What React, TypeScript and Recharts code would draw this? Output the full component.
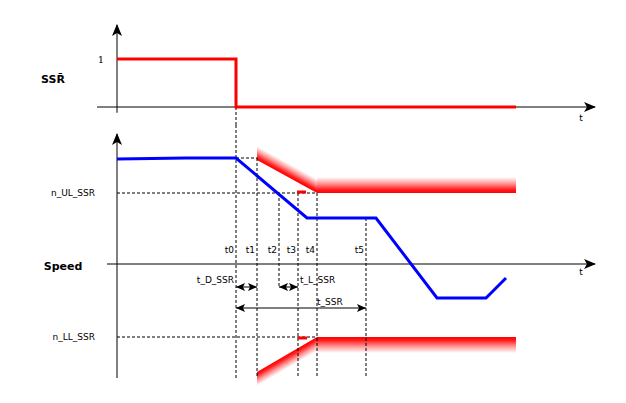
import {
  Area,
  ComposedChart,
  Line,
  ReferenceDot,
  ReferenceLine,
  XAxis,
  YAxis,
} from 'recharts'

const FONT = '"DejaVu Sans", Verdana, sans-serif'
const RED = '#ff0000'
const BLUE = '#0000ff'

// time in ms, speed in rpm
const T_DOMAIN: [number, number] = [-4, 96]
const SSR_DOMAIN: [number, number] = [-0.375, 1.75]
const SPEED_DOMAIN: [number, number] = [-1300, 1390]

const TIMES = [
  { name: 't0', t: 23.8, from: 1390, to: -1140 },
  { name: 't1', t: 28, from: 1060, to: -1140 },
  { name: 't2', t: 32.4, from: 710, to: -230 },
  { name: 't3', t: 36.2, from: 710, to: -1140 },
  { name: 't4', t: 40, from: 710, to: -1140 },
  { name: 't5', t: 49.8, from: 460, to: -1140 },
]

const SSR_SIGNAL = [
  { t: 0, v: 1 },
  { t: 23.8, v: 1 },
  { t: 23.8, v: 0 },
  { t: 79.8, v: 0 },
]

const SPEED = [
  { t: 0, v: 1050 },
  { t: 13.8, v: 1060 },
  { t: 23.8, v: 1060 },
  { t: 38, v: 460 },
  { t: 51.8, v: 460 },
  { t: 64, v: -340 },
  { t: 73.8, v: -340 },
  { t: 77.8, v: -140 },
]

const LIMITS = [
  { name: 'n_UL_SSR', v: 710 },
  { name: 'n_LL_SSR', v: -730 },
]

const H_GUIDES = [
  { v: 1060, from: 23.8, to: 28 },
  { v: 710, from: 0, to: 40 },
  { v: -730, from: 0, to: 40 },
]

const UPPER_RAMP = [
  { t: 28, r: [1040, 1180] },
  { t: 40, r: [710, 850] },
]
const UPPER_FLAT = [
  { t: 40, r: [710, 870] },
  { t: 79.8, r: [710, 870] },
]
const LOWER_RAMP = [
  { t: 28, r: [-1220, -1080] },
  { t: 40, r: [-870, -730] },
]
const LOWER_FLAT = [
  { t: 40, r: [-890, -730] },
  { t: 79.8, r: [-890, -730] },
]
const UPPER_NOTCH = [
  { t: 36, v: 720 },
  { t: 37.8, v: 720 },
]
const LOWER_NOTCH = [
  { t: 36.2, v: -740 },
  { t: 38, v: -740 },
]

const SPANS = [
  { name: 't_D_SSR', from: 23.8, to: 28, v: -230 },
  { name: 't_L_SSR', from: 32.4, to: 36.2, v: -230 },
  { name: 't_SSR', from: 23.8, to: 49.8, v: -440 },
]

const MARGIN_TOP = { top: 23, right: 29, bottom: 0, left: 7 }
const MARGIN_BOTTOM = { top: 0, right: 29, bottom: 9, left: 7 }

const axisShape = (p: any) => (
  <line x1={p.x1} y1={p.y1} x2={p.x2} y2={p.y2} stroke="#000" strokeWidth={1} markerEnd="url(#axisHead)" />
)
const spanShape = (p: any) => (
  <line
    x1={p.x1}
    y1={p.y1}
    x2={p.x2}
    y2={p.y2}
    stroke="#000"
    strokeWidth={1}
    markerStart="url(#spanHead)"
    markerEnd="url(#spanHead)"
  />
)

const text = (value: string, position: any, offset = 2, extra: any = {}) => ({
  value,
  position,
  offset,
  fill: '#000',
  fontSize: 9,
  fontFamily: FONT,
  ...extra,
})

function Fade({ id, x1, y1, x2, y2 }: { id: string; x1: number; y1: number; x2: number; y2: number }) {
  return (
    <linearGradient id={id} x1={x1} y1={y1} x2={x2} y2={y2}>
      <stop offset="0" stopColor={RED} stopOpacity={1} />
      <stop offset="0.2" stopColor={RED} stopOpacity={0.9} />
      <stop offset="0.6" stopColor={RED} stopOpacity={0.4} />
      <stop offset="1" stopColor={RED} stopOpacity={0} />
    </linearGradient>
  )
}

function Defs() {
  return (
    <svg width={0} height={0} style={{ position: 'absolute' }}>
      <defs>
        <marker id="axisHead" markerWidth={12} markerHeight={10} refX={11} refY={5} orient="auto" markerUnits="userSpaceOnUse">
          <path d="M0,0 L12,5 L0,10 L3,5 Z" fill="#000" />
        </marker>
        <marker id="spanHead" markerWidth={9} markerHeight={8} refX={9} refY={4} orient="auto-start-reverse" markerUnits="userSpaceOnUse">
          <path d="M0,0 L9,4 L0,8 L2,4 Z" fill="#000" />
        </marker>
        <Fade id="upFlat" x1={0} y1={1} x2={0} y2={0} />
        <Fade id="lowFlat" x1={0} y1={0} x2={0} y2={1} />
        <Fade id="upRamp" x1={0} y1={0.298} x2={0.14} y2={0.098} />
        <Fade id="lowRamp" x1={0} y1={0.714} x2={0.135} y2={0.904} />
      </defs>
    </svg>
  )
}

function SsrChart() {
  return (
    <ComposedChart width={626} height={125} margin={MARGIN_TOP}>
      <XAxis type="number" dataKey="t" domain={T_DOMAIN} allowDataOverflow hide />
      <YAxis
        type="number"
        domain={SSR_DOMAIN}
        allowDataOverflow
        ticks={[1]}
        interval={0}
        width={90}
        axisLine={false}
        tickLine={false}
        tickSize={0}
        tickMargin={2}
        tick={{ fontSize: 10, fill: '#000', fontFamily: '"DejaVu Serif", serif', dx: 9 }}
      />
      <ReferenceLine segment={[{ x: -4, y: 0 }, { x: 95.6, y: 0 }]} shape={axisShape} ifOverflow="visible" />
      <ReferenceLine segment={[{ x: 0, y: -0.12 }, { x: 0, y: 1.71 }]} shape={axisShape} ifOverflow="visible" />
      <ReferenceLine
        segment={[{ x: TIMES[0].t, y: 0 }, { x: TIMES[0].t, y: SSR_DOMAIN[0] }]}
        stroke="#000"
        strokeDasharray="3 2"
        ifOverflow="visible"
      />
      <Line
        data={SSR_SIGNAL}
        dataKey="v"
        type="linear"
        stroke={RED}
        strokeWidth={3}
        strokeLinejoin="miter"
        dot={false}
        isAnimationActive={false}
      />
      <ReferenceDot x={-12.8} y={0.58} r={0} fill="none" stroke="none" ifOverflow="visible"
        label={text('SSR\u0304', 'center', 0, { fontSize: 11, fontWeight: 'bold' })} />
      <ReferenceDot x={92.8} y={-0.23} r={0} fill="none" stroke="none" ifOverflow="visible"
        label={text('t', 'center', 0)} />
    </ComposedChart>
  )
}

function SpeedChart() {
  return (
    <ComposedChart width={626} height={278} margin={MARGIN_BOTTOM}>
      <XAxis type="number" dataKey="t" domain={T_DOMAIN} allowDataOverflow hide />
      <YAxis
        type="number"
        domain={SPEED_DOMAIN}
        allowDataOverflow
        ticks={LIMITS.map((l) => l.v)}
        tickFormatter={(v) => LIMITS.find((l) => l.v === v)?.name ?? ''}
        interval={0}
        width={90}
        axisLine={false}
        tickLine={false}
        tickSize={0}
        tickMargin={2}
        tick={{ fontSize: 9, fill: '#000', fontFamily: FONT }}
      />
      <Area data={UPPER_RAMP} dataKey="r" type="linear" stroke="none" fill="url(#upRamp)" fillOpacity={1} isAnimationActive={false} />
      <Area data={UPPER_FLAT} dataKey="r" type="linear" stroke="none" fill="url(#upFlat)" fillOpacity={1} isAnimationActive={false} />
      <Area data={LOWER_RAMP} dataKey="r" type="linear" stroke="none" fill="url(#lowRamp)" fillOpacity={1} isAnimationActive={false} />
      <Area data={LOWER_FLAT} dataKey="r" type="linear" stroke="none" fill="url(#lowFlat)" fillOpacity={1} isAnimationActive={false} />

      <ReferenceLine segment={[{ x: -2, y: 0 }, { x: 95.6, y: 0 }]} shape={axisShape} ifOverflow="visible" />
      <ReferenceLine segment={[{ x: 0, y: -1140 }, { x: 0, y: 1300 }]} shape={axisShape} ifOverflow="visible" />

      {TIMES.map((m) => (
        <ReferenceLine
          key={m.name}
          segment={[{ x: m.t, y: m.from }, { x: m.t, y: m.to }]}
          stroke="#000"
          strokeDasharray="3 2"
          ifOverflow="visible"
        />
      ))}
      {H_GUIDES.map((g, i) => (
        <ReferenceLine
          key={i}
          segment={[{ x: g.from, y: g.v }, { x: g.to, y: g.v }]}
          stroke="#000"
          strokeDasharray="3 2"
          ifOverflow="visible"
        />
      ))}
      {SPANS.map((s) => (
        <ReferenceLine
          key={s.name}
          segment={[{ x: s.from, y: s.v }, { x: s.to, y: s.v }]}
          shape={spanShape}
          ifOverflow="visible"
        />
      ))}

      <Line data={UPPER_NOTCH} dataKey="v" type="linear" stroke={RED} strokeWidth={3} dot={false} isAnimationActive={false} />
      <Line data={LOWER_NOTCH} dataKey="v" type="linear" stroke={RED} strokeWidth={3} dot={false} isAnimationActive={false} />
      <Line
        data={SPEED}
        dataKey="v"
        type="linear"
        stroke={BLUE}
        strokeWidth={3}
        strokeLinejoin="miter"
        dot={false}
        isAnimationActive={false}
      />

      {TIMES.map((m) => (
        <ReferenceDot key={m.name} x={m.t} y={140} r={0} fill="none" stroke="none" ifOverflow="visible"
          label={text(m.name, 'left', 2)} />
      ))}
      <ReferenceDot x={SPANS[0].from} y={-160} r={0} fill="none" stroke="none" ifOverflow="visible"
        label={text(SPANS[0].name, 'left', 2)} />
      <ReferenceDot x={SPANS[1].to} y={-160} r={0} fill="none" stroke="none" ifOverflow="visible"
        label={text(SPANS[1].name, 'right', 2)} />
      <ReferenceDot x={TIMES[4].t} y={-380} r={0} fill="none" stroke="none" ifOverflow="visible"
        label={text(SPANS[2].name, 'right', 0)} />
      <ReferenceDot x={-10.8} y={-20} r={0} fill="none" stroke="none" ifOverflow="visible"
        label={text('Speed', 'center', 0, { fontSize: 11, fontWeight: 'bold' })} />
      <ReferenceDot x={92.8} y={-80} r={0} fill="none" stroke="none" ifOverflow="visible"
        label={text('t', 'center', 0)} />
    </ComposedChart>
  )
}

export default function App() {
  return (
    <div style={{ position: 'absolute', left: 0, top: 0, width: 626, height: 403, background: '#fff' }}>
      <Defs />
      <div style={{ position: 'absolute', left: 0, top: 0 }}>
        <SsrChart />
      </div>
      <div style={{ position: 'absolute', left: 0, top: 125 }}>
        <SpeedChart />
      </div>
    </div>
  )
}
